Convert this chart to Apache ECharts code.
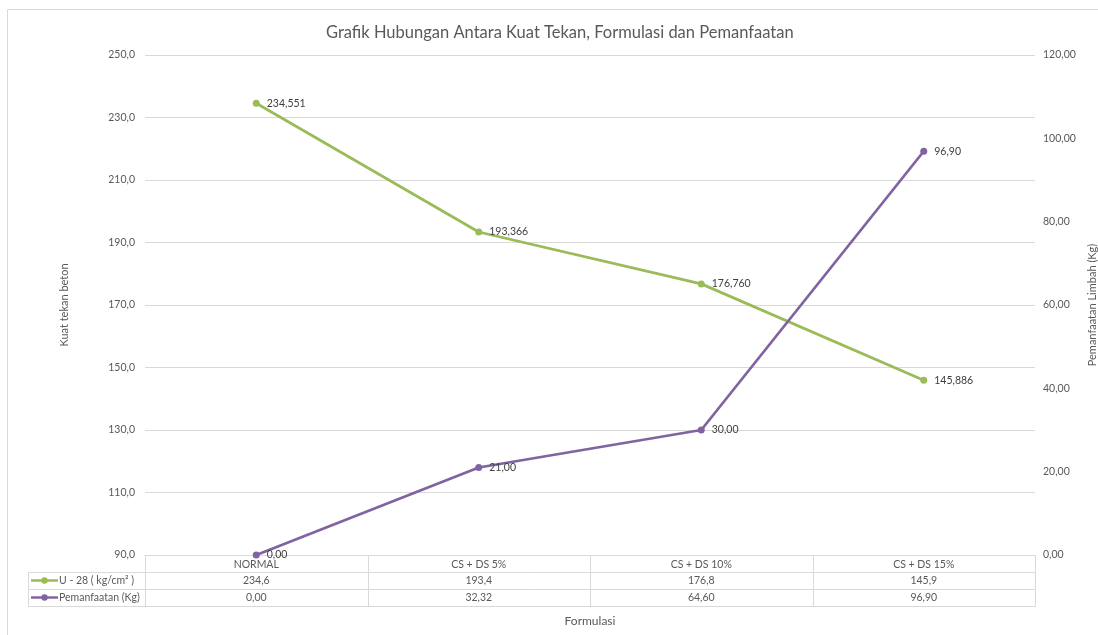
<!DOCTYPE html>
<html>
<head>
<meta charset="utf-8">
<style>
  html, body { margin: 0; padding: 0; background: #fff; overflow: hidden; }
  #chart { width: 1098px; height: 635px; }
</style>
<script src="https://cdn.jsdelivr.net/npm/echarts@6/dist/echarts.min.js"></script>
</head>
<body>
<div id="chart"></div>
<script>
// Formulations tested
const categories = ['NORMAL', 'CS + DS 5%', 'CS + DS 10%', 'CS + DS 15%'];
// Compressive strength at 28 days (kg/cm²)
const strengthU28 = [234.551, 193.366, 176.760, 145.886];
// Waste utilisation plotted on the right axis (Kg)
const usageKg = [0, 21, 30, 96.9];
// Utilisation values listed in the data table row
const usageTable = [0, 32.32, 64.60, 96.90];
// Axis ranges
const leftAxisRange = { min: 90, max: 250, interval: 20 };
const rightAxisRange = { min: 0, max: 120, interval: 20 };

const FONT = 'Lato, "Open Sans", sans-serif';
const TEXT = '#595959';
const GRID = '#d9d9d9';
const GREEN = '#9bbb59';
const PURPLE = '#8064a2';

const comma = (v, d) => v.toFixed(d).replace('.', ',');

const chart = echarts.init(document.getElementById('chart'), null, { renderer: 'canvas', width: 1098, height: 635 });

const option = {
  animation: false,
  backgroundColor: '#fff',
  textStyle: { fontFamily: FONT },
  title: {
    text: 'Grafik Hubungan Antara Kuat Tekan, Formulasi dan Pemanfaatan',
    left: 321,
    top: 19,
    textStyle: { fontFamily: FONT, fontSize: 16.5, fontWeight: 'normal', color: TEXT }
  },
  grid: { left: 145, right: 63, top: 55, bottom: 80, outerBoundsMode: 'none', containLabel: false },
  xAxis: {
    type: 'category',
    data: categories,
    boundaryGap: true,
    axisLine: { show: true, lineStyle: { color: GRID } },
    axisTick: { show: false },
    axisLabel: { color: TEXT, fontSize: 10.5, fontFamily: FONT, margin: 4 },
    name: 'Formulasi',
    nameLocation: 'middle',
    nameGap: 60,
    nameTextStyle: { color: TEXT, fontSize: 12, fontFamily: FONT }
  },
  yAxis: [
    {
      type: 'value',
      min: leftAxisRange.min,
      max: leftAxisRange.max,
      interval: leftAxisRange.interval,
      axisLine: { show: false },
      axisTick: { show: false },
      axisLabel: { color: TEXT, fontSize: 10.5, fontFamily: FONT, margin: 10, formatter: v => comma(v, 1) },
      splitLine: { lineStyle: { color: GRID, width: 1 } },
      name: 'Kuat tekan beton',
      nameLocation: 'middle',
      nameGap: 75,
      nameRotate: 90,
      nameTextStyle: { color: TEXT, fontSize: 11, fontFamily: FONT }
    },
    {
      type: 'value',
      min: rightAxisRange.min,
      max: rightAxisRange.max,
      interval: rightAxisRange.interval,
      position: 'right',
      axisLine: { show: false },
      axisTick: { show: false },
      axisLabel: { color: TEXT, fontSize: 10.5, fontFamily: FONT, margin: 8, formatter: v => comma(v, 2) },
      splitLine: { show: false },
      name: 'Pemanfaatan Limbah (Kg)',
      nameLocation: 'middle',
      nameGap: 48,
      nameRotate: 90,
      nameTextStyle: { color: TEXT, fontSize: 11, fontFamily: FONT }
    }
  ],
  series: [
    {
      name: 'U - 28 ( kg/cm² )',
      type: 'line',
      yAxisIndex: 0,
      data: strengthU28,
      symbol: 'circle',
      symbolSize: 7,
      lineStyle: { color: GREEN, width: 2.75 },
      itemStyle: { color: GREEN },
      label: {
        show: true, position: 'right', distance: 7,
        color: '#404040', fontSize: 10.5, fontFamily: FONT,
        formatter: p => comma(p.value, 3)
      },
      z: 3
    },
    {
      name: 'Pemanfaatan (Kg)',
      type: 'line',
      yAxisIndex: 1,
      data: usageKg,
      symbol: 'circle',
      symbolSize: 7,
      lineStyle: { color: PURPLE, width: 2.75 },
      itemStyle: { color: PURPLE },
      label: {
        show: true, position: 'right', distance: 7,
        color: '#404040', fontSize: 10.5, fontFamily: FONT,
        formatter: p => comma(p.value, 2)
      },
      z: 4
    }
  ]
};

chart.setOption(option);

// Data table under the category axis, aligned to the category bands
function buildTable() {
  const xs = categories.map((c, i) => chart.convertToPixel({ xAxisIndex: 0 }, i));
  const band = xs.length > 1 ? xs[1] - xs[0] : 200;
  const left = xs[0] - band / 2;
  const right = xs[xs.length - 1] + band / 2;
  const yTop = chart.convertToPixel({ yAxisIndex: 0 }, leftAxisRange.min);
  const rowH = 17;
  const keyLeft = 28;
  const lineStyle = { stroke: GRID, lineWidth: 1 };
  const els = [];

  // outer frame of the chart area
  els.push({ type: 'rect', shape: { x: 7.5, y: 9.5, width: 1200, height: 800 }, style: { fill: null, stroke: GRID, lineWidth: 1 }, silent: true });

  // horizontal rules
  for (let r = 1; r <= 3; r++) {
    const y = Math.round(yTop + r * rowH) + 0.5;
    els.push({ type: 'line', shape: { x1: keyLeft, y1: y, x2: right, y2: y }, style: lineStyle, silent: true });
  }
  // vertical rules
  const yBottom = Math.round(yTop + 3 * rowH) + 0.5;
  for (let i = 0; i <= categories.length; i++) {
    const x = Math.round(left + i * band) + 0.5;
    els.push({ type: 'line', shape: { x1: x, y1: yTop, x2: x, y2: yBottom }, style: lineStyle, silent: true });
  }
  els.push({ type: 'line', shape: { x1: keyLeft + 0.5, y1: yTop + rowH, x2: keyLeft + 0.5, y2: yBottom }, style: lineStyle, silent: true });

  const rows = [
    { name: 'U - 28 ( kg/cm² )', color: GREEN, values: strengthU28.map(v => comma(v, 1)) },
    { name: 'Pemanfaatan (Kg)', color: PURPLE, values: usageTable.map(v => comma(v, 2)) }
  ];
  rows.forEach((row, r) => {
    const cy = yTop + (r + 1.5) * rowH;
    els.push({ type: 'line', shape: { x1: 31, y1: cy, x2: 58, y2: cy }, style: { stroke: row.color, lineWidth: 2.5 }, silent: true });
    els.push({ type: 'circle', shape: { cx: 44.5, cy: cy, r: 3.2 }, style: { fill: row.color }, silent: true });
    els.push({ type: 'text', x: 59, y: cy, style: { text: row.name, fill: TEXT, font: '10.5px ' + FONT, verticalAlign: 'middle', align: 'left' }, silent: true });
    row.values.forEach((t, i) => {
      els.push({ type: 'text', x: xs[i], y: cy, style: { text: t, fill: TEXT, font: '10.5px ' + FONT, verticalAlign: 'middle', align: 'center' }, silent: true });
    });
  });
  chart.setOption({ graphic: { elements: els } });
}
buildTable();
</script>
</body>
</html>
